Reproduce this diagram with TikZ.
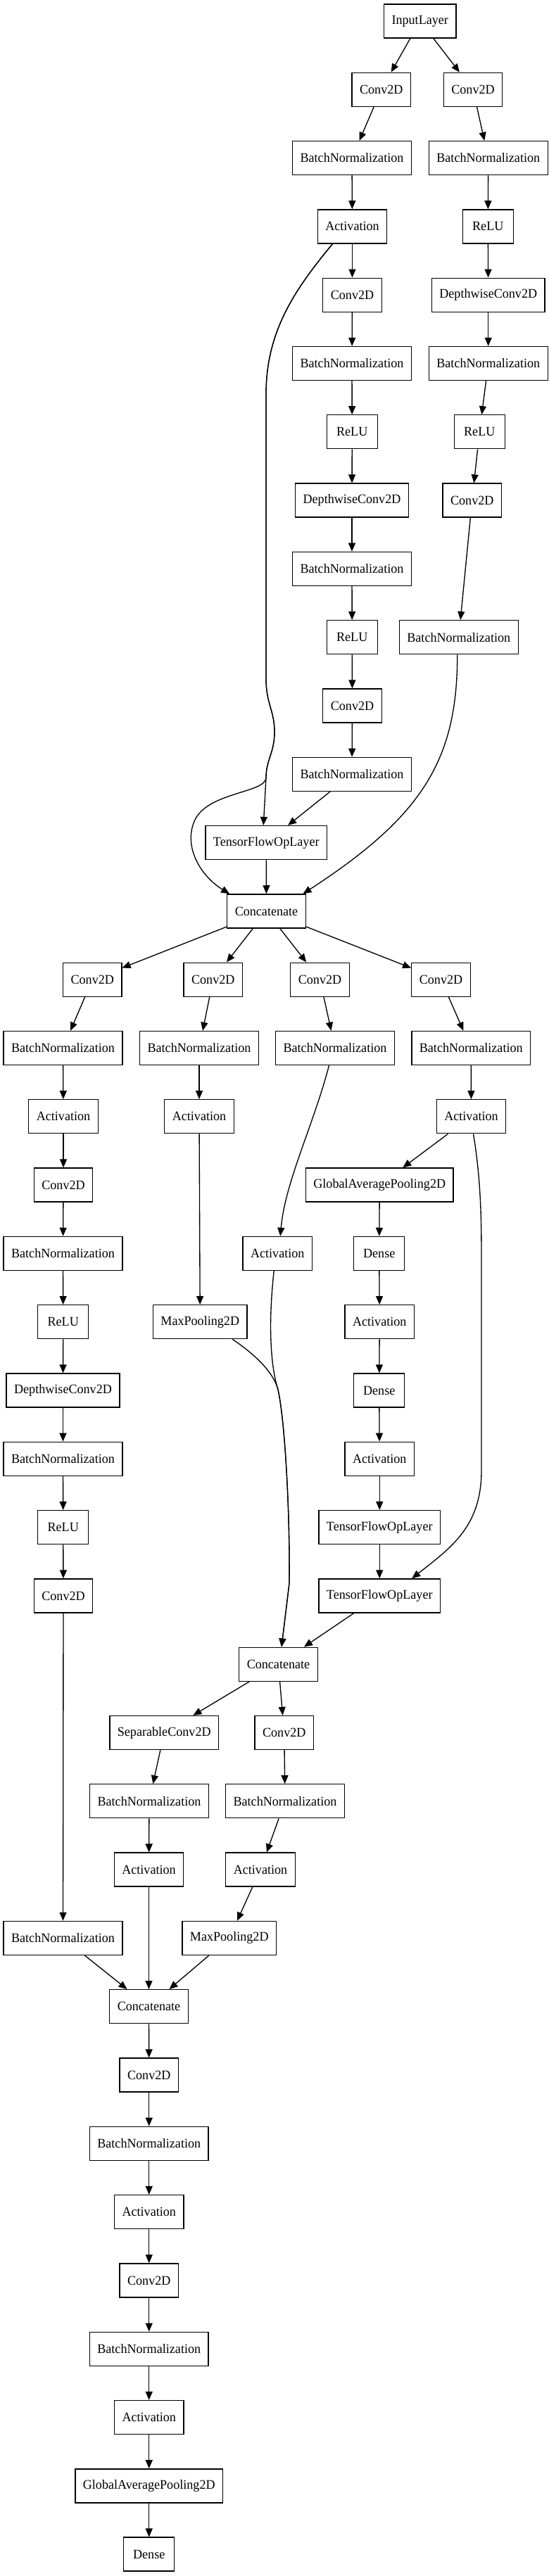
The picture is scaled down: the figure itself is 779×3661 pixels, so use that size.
\documentclass[tikz,border=0pt]{standalone}
\usepackage{fontspec}
\setmainfont{Liberation Serif}[FakeStretch=0.97]
\usetikzlibrary{arrows.meta,calc}
\begin{document}
\begin{tikzpicture}[x=0.75pt,y=-0.75pt,
  layer/.style={draw,line width=1pt,rectangle,minimum height=36pt,minimum width=54pt,inner xsep=8.25pt,font=\fontsize{14}{16}\selectfont},
  arr/.style={-{Triangle[length=9pt,width=7.5pt]},line width=1pt}]
\useasboundingbox (0,0) rectangle (779,3661);
\node[layer] (inp) at (596.75,30) {InputLayer};
\node[layer] (cva1) at (541.75,127.3) {Conv2D};
\node[layer] (cvb1) at (672,127.3) {Conv2D};
\node[layer] (bna1) at (500,224.6) {BatchNormalization};
\node[layer] (bnb1) at (693.75,224.6) {BatchNormalization};
\node[layer] (acta1) at (500.5,321.9) {Activation};
\node[layer] (relub1) at (693.25,321.9) {ReLU};
\node[layer] (cva2) at (500.5,419.2) {Conv2D};
\node[layer] (dwb1) at (693.75,419.2) {DepthwiseConv2D};
\node[layer] (bna2) at (500,516.5) {BatchNormalization};
\node[layer] (bnb2) at (693.75,516.5) {BatchNormalization};
\node[layer] (relua1) at (500.25,613.8) {ReLU};
\node[layer] (relub2) at (681.25,613.8) {ReLU};
\node[layer] (dwa1) at (500,711.1) {DepthwiseConv2D};
\node[layer] (cvb2) at (670.75,711.1) {Conv2D};
\node[layer] (bna3) at (500,808.4) {BatchNormalization};
\node[layer] (relua2) at (500.25,905.7) {ReLU};
\node[layer] (bnb3) at (651.75,905.7) {BatchNormalization};
\node[layer] (cva3) at (500.5,1003) {Conv2D};
\node[layer] (bna4) at (500,1100.3) {BatchNormalization};
\node[layer] (tfa) at (378.25,1197.6) {TensorFlowOpLayer};
\node[layer] (cat1) at (378.5,1294.9) {Concatenate};
\node[layer] (cvA1) at (131.25,1392.2) {Conv2D};
\node[layer] (cvB1) at (302.75,1392.2) {Conv2D};
\node[layer] (cvC1) at (454.5,1392.2) {Conv2D};
\node[layer] (cvD1) at (626.5,1392.2) {Conv2D};
\node[layer] (bnA1) at (89.5,1489.5) {BatchNormalization};
\node[layer] (bnB1) at (283,1489.5) {BatchNormalization};
\node[layer] (bnC1) at (476,1489.5) {BatchNormalization};
\node[layer] (bnD1) at (669.25,1489.5) {BatchNormalization};
\node[layer] (actA1) at (90,1586.8) {Activation};
\node[layer] (actB1) at (283,1586.8) {Activation};
\node[layer] (actD1) at (669.5,1586.8) {Activation};
\node[layer] (cvA2) at (90,1684.1) {Conv2D};
\node[layer] (gapD) at (539.25,1684.1) {GlobalAveragePooling2D};
\node[layer] (bnA2) at (89.5,1781.4) {BatchNormalization};
\node[layer] (actC1) at (394.25,1781.4) {Activation};
\node[layer] (dnD1) at (538.75,1781.4) {Dense};
\node[layer] (reluA1) at (89.75,1878.7) {ReLU};
\node[layer] (mpB) at (284.25,1878.7) {MaxPooling2D};
\node[layer] (actD2) at (539.25,1878.7) {Activation};
\node[layer] (dwA) at (89.5,1976) {DepthwiseConv2D};
\node[layer] (dnD2) at (538.75,1976) {Dense};
\node[layer] (bnA3) at (89.5,2073.3) {BatchNormalization};
\node[layer] (actD3) at (539.25,2073.3) {Activation};
\node[layer] (reluA2) at (89.75,2170.6) {ReLU};
\node[layer] (tfD1) at (539.25,2170.6) {TensorFlowOpLayer};
\node[layer] (cvA3) at (90,2267.9) {Conv2D};
\node[layer] (tfD2) at (539.25,2267.9) {TensorFlowOpLayer};
\node[layer] (cat2) at (395.5,2365.2) {Concatenate};
\node[layer] (sep) at (233.25,2462.5) {SeparableConv2D};
\node[layer] (cvE) at (403.75,2462.5) {Conv2D};
\node[layer] (bnS) at (212,2559.8) {BatchNormalization};
\node[layer] (bnE) at (405,2559.8) {BatchNormalization};
\node[layer] (actS) at (211.5,2657.1) {Activation};
\node[layer] (actE) at (370,2657.1) {Activation};
\node[layer] (bnA4) at (89.5,2754.4) {BatchNormalization};
\node[layer] (mpE) at (325.75,2754.4) {MaxPooling2D};
\node[layer] (cat3) at (211.5,2851.7) {Concatenate};
\node[layer] (cvF1) at (211.75,2949) {Conv2D};
\node[layer] (bnF1) at (211.75,3046.3) {BatchNormalization};
\node[layer] (actF1) at (211.75,3143.6) {Activation};
\node[layer] (cvF2) at (211.75,3240.9) {Conv2D};
\node[layer] (bnF2) at (211.75,3338.2) {BatchNormalization};
\node[layer] (actF2) at (211.75,3435.5) {Activation};
\node[layer] (gapF) at (211.75,3532.8) {GlobalAveragePooling2D};
\node[layer] (dnF) at (211.75,3630.1) {Dense};
\draw[arr] (inp) -- (cva1);
\draw[arr] (inp) -- (cvb1);
\draw[arr] (cva1) -- (bna1);
\draw[arr] (bna1) -- (acta1);
\draw[arr] (acta1) -- (cva2);
\draw[arr] (cva2) -- (bna2);
\draw[arr] (bna2) -- (relua1);
\draw[arr] (relua1) -- (dwa1);
\draw[arr] (dwa1) -- (bna3);
\draw[arr] (bna3) -- (relua2);
\draw[arr] (relua2) -- (cva3);
\draw[arr] (cva3) -- (bna4);
\draw[arr] (bna4) -- (tfa);
\draw[arr] (cvb1) -- (bnb1);
\draw[arr] (bnb1) -- (relub1);
\draw[arr] (relub1) -- (dwb1);
\draw[arr] (dwb1) -- (bnb2);
\draw[arr] (bnb2) -- (relub2);
\draw[arr] (relub2) -- (cvb2);
\draw[arr] (cvb2) -- (bnb3);
\draw[arr] ($(acta1.south)+(-28,0)$) .. controls (420,410) and (378,470) .. (378,560) -- (378,965) .. controls (378,1000) and (390,1010) .. (390,1040) .. controls (390,1070) and (378,1080) .. (378,1105) -- ($(tfa.north)+(-4,0)$);
\draw[arr] ($(acta1.south)+(-28,0)$) .. controls (420,410) and (378,470) .. (378,560) -- (378,965) .. controls (378,1000) and (390,1010) .. (390,1040) .. controls (390,1070) and (378,1080) .. (378,1105) .. controls (378,1128) and (290,1125) .. (275,1170) .. controls (262,1205) and (285,1245) .. ($(cat1.north west)+(4,0)$);
\draw[arr] ($(bnb3.south)+(-2,0)$) .. controls (650,1080) and (600,1160) .. ($(cat1.north)+(52,0)$);
\draw[arr] (tfa) -- (cat1);
\draw[arr] (cat1) -- (cvA1);
\draw[arr] (cat1) -- (cvB1);
\draw[arr] (cat1) -- (cvC1);
\draw[arr] (cat1) -- (cvD1);
\draw[arr] (cvA1) -- (bnA1);
\draw[arr] (bnA1) -- (actA1);
\draw[arr] (actA1) -- (cvA2);
\draw[arr] (cvA2) -- (bnA2);
\draw[arr] (bnA2) -- (reluA1);
\draw[arr] (reluA1) -- (dwA);
\draw[arr] (dwA) -- (bnA3);
\draw[arr] (bnA3) -- (reluA2);
\draw[arr] (reluA2) -- (cvA3);
\draw[arr] (cvA3) -- (bnA4);
\draw[arr] (bnA4) -- (cat3);
\draw[arr] (cvB1) -- (bnB1);
\draw[arr] (bnB1) -- (actB1);
\draw[arr] (actB1) -- (mpB);
\draw[arr] ($(mpB.south)+(46,0)$) .. controls (370,1930) and (390,1955) .. (395,1975) .. controls (405,2020) and (412,2150) .. (411,2250) -- ($(cat2.north)+(4.5,0)$);
\draw[arr] (cvC1) -- (bnC1);
\draw[arr] ($(bnC1.south)+(-8.5,0)$) .. controls (445,1600) and (405,1680) .. ($(actC1.north)+(4,0)$);
\draw[arr] ($(actC1.south)+(-5,0)$) .. controls (381,1880) and (384,1940) .. (395,1975) .. controls (405,2020) and (412,2150) .. (411,2250) -- ($(cat2.north)+(4.5,0)$);
\draw[arr] (cvD1) -- (bnD1);
\draw[arr] (bnD1) -- (actD1);
\draw[arr] (actD1) -- (gapD);
\draw[arr] (gapD) -- (dnD1);
\draw[arr] (dnD1) -- (actD2);
\draw[arr] (actD2) -- (dnD2);
\draw[arr] (dnD2) -- (actD3);
\draw[arr] (actD3) -- (tfD1);
\draw[arr] (tfD1) -- (tfD2);
\draw[arr] ($(actD1.south)+(3,0)$) .. controls (684,1680) and (684,1740) .. (684,1800) -- (684,2090) .. controls (684,2170) and (640,2200) .. ($(tfD2.north)+(46,0)$);
\draw[arr] (tfD2) -- (cat2);
\draw[arr] (cat2) -- (sep);
\draw[arr] (cat2) -- (cvE);
\draw[arr] (sep) -- (bnS);
\draw[arr] (bnS) -- (actS);
\draw[arr] (actS) -- (cat3);
\draw[arr] (cvE) -- (bnE);
\draw[arr] (bnE) -- (actE);
\draw[arr] (actE) -- (mpE);
\draw[arr] (mpE) -- (cat3);
\draw[arr] (cat3) -- (cvF1);
\draw[arr] (cvF1) -- (bnF1);
\draw[arr] (bnF1) -- (actF1);
\draw[arr] (actF1) -- (cvF2);
\draw[arr] (cvF2) -- (bnF2);
\draw[arr] (bnF2) -- (actF2);
\draw[arr] (actF2) -- (gapF);
\draw[arr] (gapF) -- (dnF);
\end{tikzpicture}
\end{document}
